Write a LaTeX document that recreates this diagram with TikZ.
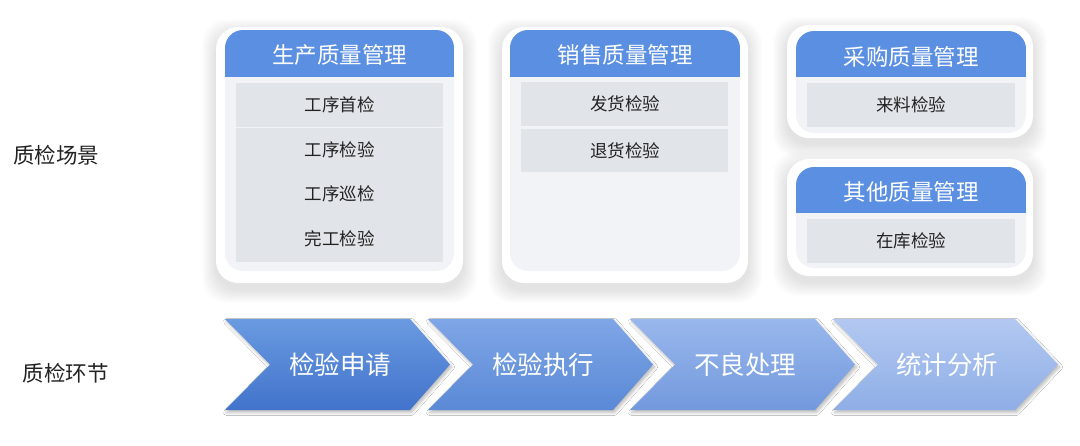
\documentclass[tikz,border=0pt]{standalone}
\usepackage{fontspec}
\setmainfont{Noto Sans CJK SC}
\usetikzlibrary{shadows.blur}
\definecolor{hdr}{HTML}{5B8FE2}
\definecolor{panelc}{HTML}{F1F3F7}
\definecolor{itemc}{HTML}{E1E4E9}
\definecolor{txt}{HTML}{222222}
\definecolor{cAt}{HTML}{6A9AE0}\definecolor{cAb}{HTML}{4173CB}
\definecolor{cBt}{HTML}{7FA6E6}\definecolor{cBb}{HTML}{5A89D6}
\definecolor{cCt}{HTML}{98B7EC}\definecolor{cCb}{HTML}{7399DD}
\definecolor{cDt}{HTML}{B2C8F1}\definecolor{cDb}{HTML}{8FAEE6}
\tikzset{
  cardbox/.style={fill=white, rounded corners=22pt},
  shadowlayer/.style={fill=black, opacity=0.009, rounded corners=24pt},
  panelbox/.style={fill=panelc, rounded corners=18pt},
  itembox/.style={fill=itemc},
  hdrtext/.style={text=white, font=\fontsize{22.5pt}{26pt}\selectfont, inner sep=0pt},
  itemtext/.style={text=txt, font=\fontsize{17.5pt}{21pt}\selectfont, inner sep=0pt},
  sidetext/.style={text=txt, font=\fontsize{21.5pt}{25pt}\selectfont, inner sep=0pt},
  chevtext/.style={text=white, font=\fontsize{25.5pt}{29pt}\selectfont, inner sep=0pt},
  chevshape/.style={blur shadow={shadow xshift=1.5pt, shadow yshift=-2.5pt, shadow blur radius=3pt, shadow blur steps=6, shadow opacity=28}},
}
\newcommand\cardshade[4]{%
  \foreach \k in {1,...,14}{%
    \path[shadowlayer] (#1-\k,#2-\k+6) rectangle (#3+\k,#4+\k+6);
  }%
  \path[cardbox] (#1,#2) rectangle (#3,#4);
}
\begin{document}
\begin{tikzpicture}[x=1pt,y=-1pt]
\useasboundingbox (0,0) rectangle (1080,445);
\fill[white] (0,0) rectangle (1080,445);

% side labels
\node[sidetext] (lscene) at (56,155) {质检场景};
\node[sidetext] (lstep) at (66,373) {质检环节};

% ---- card 1
\cardshade{216}{27}{463}{283}
\path[panelbox] (225,30) rectangle (454,271);
\begin{scope}
  \clip[rounded corners=18pt] (225,30) rectangle (454,271);
  \fill[hdr] (225,30) rectangle (454,77);
\end{scope}
\fill[itembox] (236,83) rectangle (443,126.5);
\fill[itembox] (236,128) rectangle (443,262);
\node[hdrtext] (h1) at (339.5,55) {生产质量管理};
\node[itemtext] (p1) at (339.5,105) {工序首检};
\node[itemtext] (p2) at (339.5,150) {工序检验};
\node[itemtext] (p3) at (339.5,194) {工序巡检};
\node[itemtext] (p4) at (339.5,239) {完工检验};

% ---- card 2
\cardshade{502}{27}{748}{283}
\path[panelbox] (510,30) rectangle (740,271);
\begin{scope}
  \clip[rounded corners=18pt] (510,30) rectangle (740,271);
  \fill[hdr] (510,30) rectangle (740,77);
\end{scope}
\fill[itembox] (521,82) rectangle (728,126);
\fill[itembox] (521,129) rectangle (728,172);
\node[hdrtext] (h2) at (625,55) {销售质量管理};
\node[itemtext] (s1) at (625,104) {发货检验};
\node[itemtext] (s2) at (625,151) {退货检验};

% ---- card 3
\cardshade{787}{25}{1033}{138}
\path[panelbox] (796,31) rectangle (1026,133);
\begin{scope}
  \clip[rounded corners=18pt] (796,31) rectangle (1026,133);
  \fill[hdr] (796,31) rectangle (1026,77);
\end{scope}
\fill[itembox] (807,83) rectangle (1015,127);
\node[hdrtext] (h3) at (911,57) {采购质量管理};
\node[itemtext] (b1) at (911,105) {来料检验};

% ---- card 4
\cardshade{787}{159}{1033}{276}
\path[panelbox] (796,167) rectangle (1026,268);
\begin{scope}
  \clip[rounded corners=18pt] (796,167) rectangle (1026,268);
  \fill[hdr] (796,167) rectangle (1026,213);
\end{scope}
\fill[itembox] (807,219) rectangle (1015,263);
\node[hdrtext] (h4) at (911,192) {其他质量管理};
\node[itemtext] (o1) at (911,241) {在库检验};

% ---- chevrons
\path[chevshape, top color=cAt, bottom color=cAb] (225,319) -- (410,319) -- (450,364.5) -- (410,410) -- (225,410) -- (270,364.5) -- cycle;
\path[chevshape, top color=cBt, bottom color=cBb] (428,319) -- (613,319) -- (653,364.5) -- (613,410) -- (428,410) -- (473,364.5) -- cycle;
\path[chevshape, top color=cCt, bottom color=cCb] (630,319) -- (815,319) -- (855,364.5) -- (815,410) -- (630,410) -- (675,364.5) -- cycle;
\path[chevshape, top color=cDt, bottom color=cDb] (833,319) -- (1015,319) -- (1058,364.5) -- (1015,410) -- (833,410) -- (878,364.5) -- cycle;
\node[chevtext] (c1) at (340,365) {检验申请};
\node[chevtext] (c2) at (543,365) {检验执行};
\node[chevtext] (c3) at (745,365) {不良处理};
\node[chevtext] (c4) at (947,365) {统计分析};
\end{tikzpicture}
\end{document}
